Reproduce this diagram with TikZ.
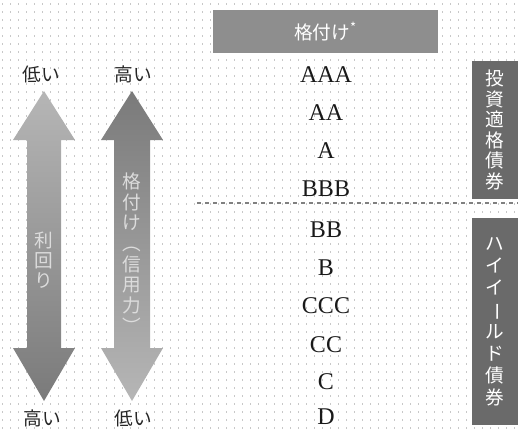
\documentclass[tikz,border=0pt]{standalone}
\usepackage{fontspec}
\setmainfont{Liberation Serif}
\newfontfamily\jpfont{Noto Sans CJK JP}
\usetikzlibrary{positioning}
\definecolor{dotgray}{HTML}{C8C8C8}
\definecolor{headgray}{HTML}{8E8E8E}
\definecolor{sidegray}{HTML}{6A6A6A}
\definecolor{arrowlight}{HTML}{B6B6B6}
\definecolor{arrowdark}{HTML}{7A7A7A}
\definecolor{arrowtext}{HTML}{DCDCDC}
\tikzset{
  headbox/.style={fill=headgray, inner sep=0pt,
              minimum width=168.75pt, minimum height=32.25pt,
              text=white, font=\jpfont\fontsize{14}{16}\selectfont},
  sidebox/.style={fill=sidegray, inner sep=0pt, minimum width=34.5pt,
              align=center, text=white, font=\jpfont\fontsize{14}{#1}\selectfont},
  rating/.style={font=\fontsize{18}{20}\selectfont, text=black!90},
  endlabel/.style={font=\jpfont\fontsize{14}{16}\selectfont, text=black!85},
  arrowlabel/.style={align=center, text=arrowtext,
              font=\jpfont\fontsize{14}{#1}\selectfont},
  sepline/.style={draw=gray, dashed, line width=1pt},
}

\begin{document}
\begin{tikzpicture}[x=0.75pt, y=-0.75pt]
  \useasboundingbox (0,0) rectangle (518,429);
  % dotted background
  \foreach \y in {4,12,...,428}
    \draw[dotgray, line width=0.8pt, dash pattern=on 0.7pt off 5.3pt] (2,\y) -- (518,\y);

  % two arrows
  \shade[top color=arrowlight, bottom color=arrowdark]
    (44,91) -- (75,140) -- (61,140) -- (61,348) -- (75,348) -- (44,401)
    -- (13,348) -- (27,348) -- (27,140) -- (13,140) -- cycle;
  \shade[top color=arrowdark, bottom color=arrowlight]
    (132,91) -- (163,140) -- (150,140) -- (150,348) -- (163,348) -- (132,401)
    -- (101,348) -- (114,348) -- (114,140) -- (101,140) -- cycle;
  \node[arrowlabel=15] (yield) at (44,260) {利\\回\\り};
  \node[arrowlabel=15.5] (credit) at (132,253) {格\\付\\け\\︵\\信\\用\\力\\︶};

  \node[endlabel] (yieldlo) at (41,74)  {低い};
  \node[endlabel] (creditHi) at (133,74) {高い};
  \node[endlabel] (yieldhi) at (42,418) {高い};
  \node[endlabel] (creditlo) at (133,418) {低い};

  % ratings
  \node[headbox] (head) at (325.5,31.5) {格付け\textsuperscript{*}};
  \foreach \r/\y in {AAA/75, AA/113, A/151, BBB/189, BB/230, B/268,
                     CCC/306, CC/345, C/382, D/417}
    \node[rating] (r\r) at (326,\y) {\r};

  \coordinate (sepL) at (197,203);
  \coordinate (sepR) at (518,203);
  \draw[sepline] (sepL) -- (sepR);

  \node[sidebox=15.4, minimum height=103.5pt] (invest) at (495,130)
    {投\\資\\適\\格\\債\\券};
  \node[sidebox=16.5, minimum height=155.25pt] (highyield) at (495,321.5)
    {ハ\\イ\\イ\\\rotatebox[origin=c]{-90}{ー}\\ル\\ド\\債\\券};
\end{tikzpicture}
\end{document}
